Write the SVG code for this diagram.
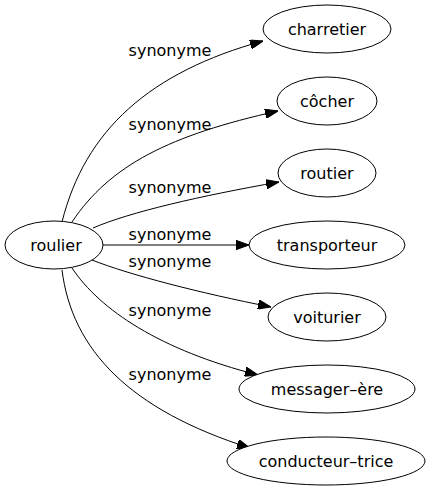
<svg xmlns="http://www.w3.org/2000/svg" width="432" height="491" viewBox="0 0 432 491">
<style>
  .n ellipse { fill: #fff; stroke: #000; stroke-width: 1; }
  text { font-family: "DejaVu Sans", "Liberation Sans", sans-serif; font-size: 16px; fill: #000; text-anchor: middle; }
  .e path { fill: none; stroke: #000; stroke-width: 1; marker-end: url(#arr); }
</style>
<defs>
  <marker id="arr" markerUnits="userSpaceOnUse" viewBox="0 0 13 9.4" markerWidth="13" markerHeight="9.4" refX="13" refY="4.7" orient="auto">
    <path d="M0,0 L13,4.7 L0,9.4 z" fill="#000" stroke="#000" stroke-width="1"/>
  </marker>
</defs>
<rect width="432" height="491" fill="#fff"/>
<g id="edges" class="e">
  <path d="M62,222 C85,130 150,72 263,41"/>
  <path d="M72,222 C110,165 170,135 278,111"/>
  <path d="M93,228 C130,212 200,196 279,182"/>
  <path d="M103,245 L249,245"/>
  <path d="M92,260 C130,275 200,293 271,307"/>
  <path d="M72,268 C100,310 160,350 258,375"/>
  <path d="M62,270 C72,350 130,410 250,448"/>
  <text x="170" y="56">synonyme</text>
  <text x="170" y="130">synonyme</text>
  <text x="170" y="193">synonyme</text>
  <text x="170" y="240">synonyme</text>
  <text x="170" y="267">synonyme</text>
  <text x="170" y="316">synonyme</text>
  <text x="170" y="380">synonyme</text>
</g>
<g id="roulier" class="n"><ellipse cx="54" cy="245" rx="49" ry="24"/><text x="56" y="250.5">roulier</text></g>
<g id="charretier" class="n"><ellipse cx="327" cy="29" rx="64" ry="24"/><text x="327" y="34.5">charretier</text></g>
<g id="cocher" class="n"><ellipse cx="327" cy="101" rx="50" ry="24"/><text x="327" y="106.5">côcher</text></g>
<g id="routier" class="n"><ellipse cx="327" cy="173" rx="49" ry="24"/><text x="327" y="178.5">routier</text></g>
<g id="transporteur" class="n"><ellipse cx="327" cy="245" rx="78" ry="24"/><text x="327" y="250.5">transporteur</text></g>
<g id="voiturier" class="n"><ellipse cx="327" cy="317" rx="59" ry="24"/><text x="327" y="322.5">voiturier</text></g>
<g id="messager" class="n"><ellipse cx="327" cy="389" rx="88" ry="24"/><text x="327" y="394.5">messager–ère</text></g>
<g id="conducteur" class="n"><ellipse cx="326" cy="461" rx="99" ry="24"/><text x="326" y="466.5">conducteur–trice</text></g>
</svg>
